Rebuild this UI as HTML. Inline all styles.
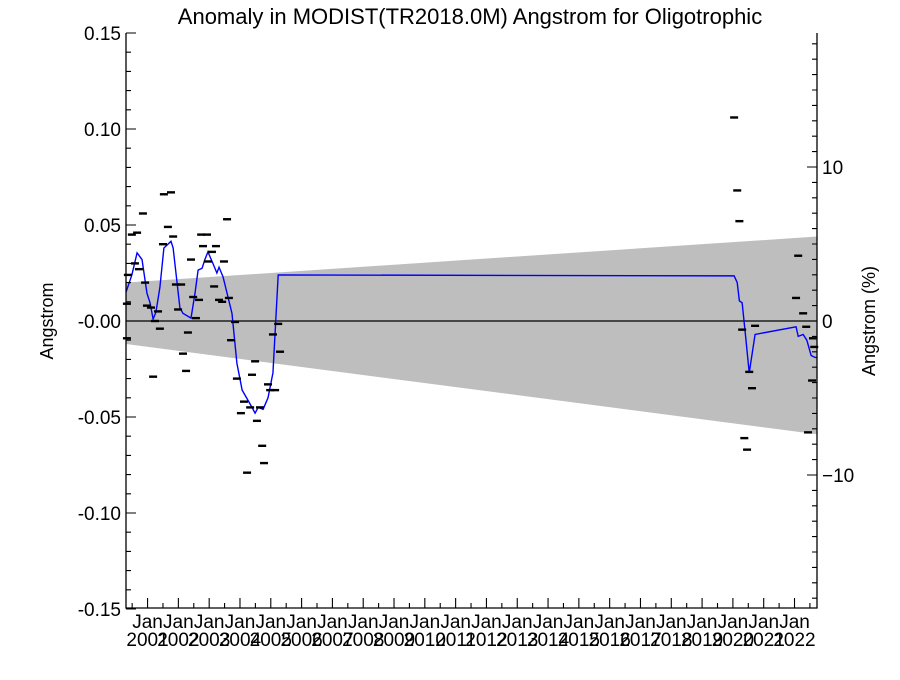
<!DOCTYPE html>
<html><head><meta charset="utf-8"><style>
body{margin:0;background:#fff;}
svg text{font-family:"Liberation Sans",sans-serif;fill:#000;}
</style></head><body>
<svg id="chart" width="900" height="675" xmlns="http://www.w3.org/2000/svg">
<text x="470" y="24" font-size="22" text-anchor="middle">Anomaly in MODIST(TR2018.0M) Angstrom for Oligotrophic</text>
<g id="band"></g>
<g id="zero"></g>
<g id="line"></g>
<g id="pts"></g>
<g id="axes"></g>
<text transform="translate(53,321) rotate(-90)" font-size="18" text-anchor="middle">Angstrom</text>
<text transform="translate(875,321) rotate(-90)" font-size="18" text-anchor="middle">Angstrom (%)</text>
</svg>
<script>
const ptYears=[2000.33,2000.33,2000.36,2000.49,2000.66,2000.59,2000.72,2000.85,2000.92,2000.98,2001.11,2001.18,2001.24,2001.34,2001.40,2001.53,2001.76,2001.50,2001.66,2001.83,2001.92,2002.09,2001.99,2002.15,2002.25,2002.31,2002.41,2002.48,2002.57,2002.67,2002.74,2002.93,2002.80,2003.09,2003.22,2002.96,2003.16,2003.32,2003.42,2003.48,2003.58,2003.64,2003.84,2003.71,2003.90,2004.03,2004.13,2004.23,2004.33,2004.39,2004.49,2004.55,2004.65,2004.72,2004.78,2004.91,2004.98,2005.14,2005.07,2005.24,2005.30,
2020.04,2020.14,2020.21,2020.30,2020.72,2020.53,2020.37,2020.46,2020.62,2022.12,2022.05,2022.28,2022.38,2022.60,2022.57,2022.44,2022.64];
const ptValues=[0.009,-0.009,0.024,0.045,0.046,0.030,0.027,0.056,0.020,0.008,0.007,-0.029,0,0.005,-0.004,0.066,0.067,0.040,0.049,0.044,0.019,0.019,0.006,-0.017,-0.026,-0.006,0.032,0.0125,0.0015,0.011,0.045,0.045,0.039,0.036,0.039,0.031,0.018,0.011,0.010,0.031,0.053,0.012,-0.0005,-0.010,-0.030,-0.048,-0.042,-0.079,-0.045,-0.028,-0.021,-0.052,-0.045,-0.065,-0.074,-0.033,-0.036,-0.036,-0.007,-0.0015,-0.016,
0.106,0.068,0.052,-0.0045,-0.0025,-0.0265,-0.061,-0.067,-0.035,0.034,0.012,0.004,-0.003,-0.009,-0.031,-0.058,-0.0135];
const lineYears=[2000.3,2000.49,2000.66,2000.82,2000.98,2001.08,2001.18,2001.27,2001.40,2001.53,2001.76,2001.83,2002.05,2002.15,2002.41,2002.54,2002.64,2002.77,2002.86,2002.96,2003.12,2003.25,2003.32,2003.45,2003.74,2003.90,2004.07,2004.39,2004.49,2004.59,2004.75,2004.91,2005.07,2005.24,2020.04,2020.14,2020.21,2020.30,2020.40,2020.53,2020.72,2022.05,2022.12,2022.28,2022.40,2022.54,2022.67,2022.73];
const lineValues=[0.015,0.024,0.0355,0.032,0.0145,0.0095,0.001,0.0045,0.0175,0.038,0.0415,0.038,0.0068,0.004,0.0015,0.0145,0.0265,0.0275,0.032,0.036,0.030,0.025,0.028,0.023,0.004,-0.022,-0.036,-0.045,-0.048,-0.045,-0.046,-0.040,-0.027,0.024,0.0235,0.020,0.0105,0.0095,-0.006,-0.027,-0.007,-0.003,-0.008,-0.007,-0.010,-0.018,-0.019,-0.019];
const bandYears=[2000.3,2022.73];
const bandUpper=[0.020,0.044];
const bandLower=[-0.012,-0.059];
const leftTicks=[0.15,0.10,0.05,0.00,-0.05,-0.10,-0.15];
const leftTickLabels=["0.15","0.10","0.05","-0.00","-0.05","-0.10","-0.15"];
const rightTicks=[10,0,-10];
const yearLabels=[2001,2002,2003,2004,2005,2006,2007,2008,2009,2010,2011,2012,2013,2014,2015,2016,2017,2018,2019,2020,2021,2022];

const L=126,R=817,T=33,B=608,X0=2000.3,X1=2022.73;
const x=v=>L+(v-X0)/(X1-X0)*(R-L);
const y=v=>321-v*1920;
const yp=p=>321-p*15.4;
const NS="http://www.w3.org/2000/svg";
function mk(tag,parent,attrs){const e=document.createElementNS(NS,tag);for(const k in attrs)e.setAttribute(k,attrs[k]);document.getElementById(parent).appendChild(e);return e;}

let poly=mk('polygon','band',{fill:'#bebebe',points:`${x(bandYears[0])},${y(bandUpper[0])} ${x(bandYears[1])},${y(bandUpper[1])} ${x(bandYears[1])},${y(bandLower[1])} ${x(bandYears[0])},${y(bandLower[0])}`});


let z=mk('line','zero',{x1:L,x2:R,y1:y(0),y2:y(0),stroke:'#000','stroke-width':1.3});


let pl=mk('polyline','line',{fill:'none',stroke:'#0000ff','stroke-width':1.4,points:lineYears.map((t,i)=>x(t)+','+y(lineValues[i])).join(' ')});


ptYears.forEach((t,i)=>{
 const r=mk('rect','pts',{x:x(t)-4,y:y(ptValues[i])-1.2,width:8,height:2.4,fill:'#000'});
 
 
});
let fr=mk('path','axes',{d:`M${L},${T}V${B}H${R}V${T}`,fill:'none',stroke:'#000','stroke-width':1.3});


let tk='';
for(let v=-0.15;v<=0.1501;v+=0.01){const yy=y(v);const maj=Math.abs(Math.round(v*100)%5)===0;tk+=`M${L},${yy}h${maj?10:5}`;}
for(let p=-18;p<=18;p++){const yy=yp(p);if(yy<T||yy>B)continue;tk+=`M${R},${yy}h-${p%10===0?10:5}`;}
for(let t=2000.5;t<X1;t+=0.5){const xx=x(t);const maj=Math.abs(t-Math.round(t))<0.01;tk+=`M${xx},${B}v-${maj?10:5}`;}
let tp=mk('path','axes',{d:tk,stroke:'#000','stroke-width':1.1,fill:'none'});


leftTicks.forEach((v,i)=>{const t=mk('text','axes',{x:L-5,y:y(v)+7,'font-size':19,'text-anchor':'end'});t.textContent=leftTickLabels[i];
 
 });
rightTicks.forEach(v=>{const t=mk('text','axes',{x:R+5,y:yp(v)+7,'font-size':19});t.textContent=v<0?'\u2212'+(-v):String(v);
 
 });
yearLabels.forEach(yr=>{const xx=x(yr);
 const a=mk('text','axes',{x:xx,y:628,'font-size':19,'text-anchor':'middle'});a.textContent='Jan';
 
 
 const b=mk('text','axes',{x:xx,y:646,'font-size':19,'text-anchor':'middle'});b.textContent=String(yr);
 
 });
</script>
</body></html>
